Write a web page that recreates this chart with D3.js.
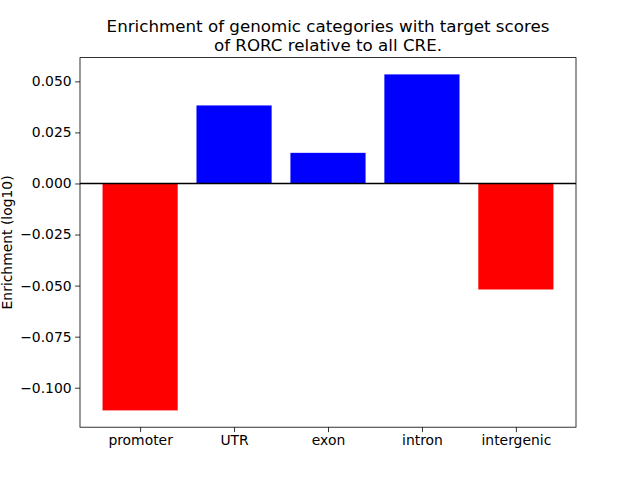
<!DOCTYPE html>
<html><head><meta charset="utf-8">
<script src="https://cdn.jsdelivr.net/npm/d3@7"></script>
<style>body{margin:0;background:#fff}svg{display:block}text{font-family:"DejaVu Sans",sans-serif}</style>
</head><body>
<svg id="c" width="640" height="480"></svg>
<script>
const categories = ["promoter","UTR","exon","intron","intergenic"];
const values = [-0.1111, 0.0382, 0.0150, 0.0534, -0.0519];
const yTicks = [0.050, 0.025, 0.000, -0.025, -0.050, -0.075, -0.100];
const titleLines = ["Enrichment of genomic categories with target scores","of RORC relative to all CRE."];
const yLabel = "Enrichment (log10)";

const svg = d3.select("#c");
const L=80, R=576, T=57.6, B=427.2;
const dmin=d3.min(values), dmax=d3.max(values), rng=dmax-dmin;
const y = d3.scaleLinear().domain([dmin-0.05*rng, dmax+0.05*rng]).range([B,T]);
const x = d3.scaleLinear().domain([-0.64, 4.64]).range([L,R]);
const bw = x(0.8)-x(0);

svg.append("g").selectAll("rect").data(values).join("rect")
  .attr("x",(d,i)=>x(i)-bw/2).attr("width",bw)
  .attr("y",d=>y(Math.max(0,d))).attr("height",d=>Math.abs(y(d)-y(0)))
  .attr("fill",d=>d<0?"#ff0000":"#0000ff");

svg.append("line").attr("x1",L).attr("x2",R).attr("y1",y(0)).attr("y2",y(0))
  .attr("stroke","#000").attr("stroke-width",1.5);

const fmt = d3.format(".3f");
const ya = svg.append("g").attr("transform",`translate(${L},0)`)
  .call(d3.axisLeft(y).tickValues(yTicks).tickFormat(fmt).tickSizeOuter(0).tickSize(4.9).tickPadding(3.5));
const xa = svg.append("g").attr("transform",`translate(0,${B})`)
  .call(d3.axisBottom(x).tickValues(d3.range(categories.length)).tickFormat(i=>categories[i]).tickSizeOuter(0).tickSize(4.9).tickPadding(3.5));
[ya,xa].forEach(a=>{a.select(".domain").remove();a.selectAll("text").attr("font-size","13.9px").attr("fill","#000").attr("font-family","DejaVu Sans");a.selectAll("line").attr("stroke","#000").attr("stroke-width",0.8);});

svg.append("rect").attr("x",L).attr("y",T).attr("width",R-L).attr("height",B-T)
  .attr("fill","none").attr("stroke","#000").attr("stroke-width",0.8);

svg.append("text").attr("x",(L+R)/2).attr("text-anchor","middle").attr("font-size","16.7px")
  .selectAll("tspan").data(titleLines).join("tspan")
  .attr("x",(L+R)/2).attr("y",(d,i)=>32+i*18.5).text(d=>d);

svg.append("text").attr("transform",`translate(11.5,${(T+B)/2}) rotate(-90)`)
  .attr("text-anchor","middle").attr("font-size","13.9px").text(yLabel);
</script>
</body></html>
